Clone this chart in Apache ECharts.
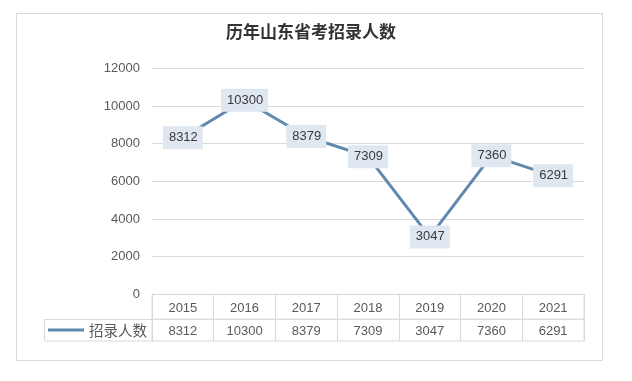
<!DOCTYPE html>
<html>
<head>
<meta charset="utf-8">
<script src="https://cdn.jsdelivr.net/npm/echarts@6/dist/echarts.min.js"></script>
<style>
html,body{margin:0;padding:0;background:#fff;}
#c{width:632px;height:381px;}
</style>
</head>
<body>
<div id="c"></div>
<script>
var titleText = '历年山东省考招录人数';
var seriesName = '招录人数';
var years = ['2015','2016','2017','2018','2019','2020','2021'];
var values = [8312, 10300, 8379, 7309, 3047, 7360, 6291];
var yTicks = [0, 2000, 4000, 6000, 8000, 10000, 12000];

var numFont = '"Liberation Sans", Arial, sans-serif';
var cjkFont = '"Noto Sans CJK SC", sans-serif';
var gridColor = '#d9d9d9';
var lineColor = '#5f89ae';

var chart = echarts.init(document.getElementById('c'), null, {renderer: 'canvas'});
chart.setOption({
  backgroundColor: '#ffffff',
  animation: false,
  title: {
    text: titleText,
    left: 226,
    top: 23,
    padding: 0,
    textStyle: {fontFamily: cjkFont, fontSize: 17, fontWeight: 'bold', color: '#333333'}
  },
  legend: {
    data: [seriesName],
    left: 48,
    top: 322,
    padding: 0,
    icon: 'rect',
    itemWidth: 36,
    itemHeight: 3,
    itemStyle: {color: lineColor, opacity: 1, borderWidth: 0},
    textStyle: {fontFamily: cjkFont, fontSize: 14.5, color: '#595959', lineHeight: 16}
  },
  graphic: [
    {type: 'rect', silent: true, shape: {x: 16.5, y: 13.5, width: 586, height: 347}, style: {fill: 'none', stroke: gridColor, lineWidth: 1}},
    {type: 'rect', silent: true, shape: {x: 44.5, y: 319.5, width: 108, height: 21.5}, style: {fill: 'none', stroke: gridColor, lineWidth: 1}}
  ],
  grid: [
    {left: 152, top: 68.3, width: 432, height: 226, show: false},
    {left: 152, top: 294.3, width: 432, height: 25, show: true, borderColor: gridColor, borderWidth: 1, backgroundColor: 'transparent'},
    {left: 152, top: 319.3, width: 432, height: 21.7, show: true, borderColor: gridColor, borderWidth: 1, backgroundColor: 'transparent'}
  ],
  xAxis: [
    {
      type: 'category', gridIndex: 0, data: years, boundaryGap: true,
      axisLine: {show: false}, axisTick: {show: false}, axisLabel: {show: false}, splitLine: {show: false}
    },
    {
      type: 'category', gridIndex: 1, data: years, boundaryGap: true, position: 'top',
      axisLine: {show: false}, axisTick: {show: false},
      axisLabel: {show: true, inside: true, margin: 8, color: '#595959', fontFamily: numFont, fontSize: 13, verticalAlign: 'top'},
      splitLine: {show: true, lineStyle: {color: gridColor, width: 1}}
    },
    {
      type: 'category', gridIndex: 2, data: years, boundaryGap: true, position: 'top',
      axisLine: {show: false}, axisTick: {show: false},
      axisLabel: {show: true, inside: true, margin: 5.5, color: '#595959', fontFamily: numFont, fontSize: 13, verticalAlign: 'top',
        formatter: function (v, i) { return String(values[i]); }},
      splitLine: {show: true, lineStyle: {color: gridColor, width: 1}}
    }
  ],
  yAxis: [
    {
      type: 'value', gridIndex: 0, min: yTicks[0], max: yTicks[yTicks.length - 1], interval: yTicks[1] - yTicks[0],
      axisLine: {show: false}, axisTick: {show: false},
      axisLabel: {margin: 12, color: '#595959', fontFamily: numFont, fontSize: 13,
        formatter: function (v) { return String(v); }},
      splitLine: {show: true, lineStyle: {color: gridColor, width: 1}}
    },
    {type: 'value', gridIndex: 1, show: false},
    {type: 'value', gridIndex: 2, show: false}
  ],
  series: [
    {
      name: seriesName,
      type: 'line',
      xAxisIndex: 0,
      yAxisIndex: 0,
      data: values,
      symbol: 'circle',
      symbolSize: 1,
      showSymbol: true,
      lineStyle: {color: lineColor, width: 3},
      itemStyle: {color: lineColor, opacity: 0},
      label: {
        show: true,
        position: 'inside',
        color: '#3a3a3a',
        fontFamily: numFont,
        fontSize: 13,
        backgroundColor: '#dfe7f1',
        padding: [4, 5, 4, 6],
        lineHeight: 15,
        opacity: 1
      },
      labelLayout: {hideOverlap: false},
      z: 3
    }
  ]
});
</script>
</body>
</html>
